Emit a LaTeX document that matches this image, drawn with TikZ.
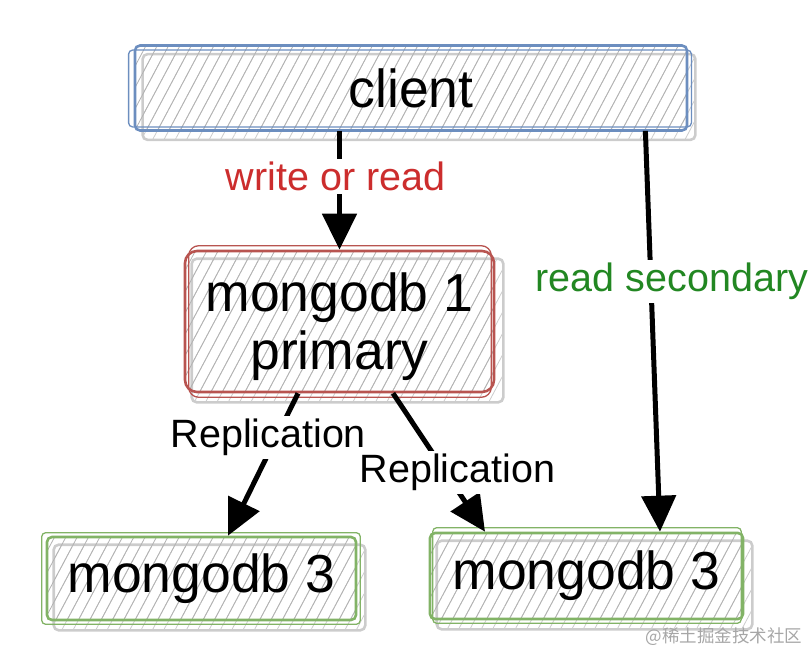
\documentclass[tikz,border=0pt]{standalone}
\usepackage{fontspec}
\setmainfont{Liberation Sans}
\newfontfamily\cjkfont{Noto Sans CJK SC}
\usetikzlibrary{patterns.meta,arrows.meta,backgrounds,calc}
\definecolor{cblue}{HTML}{6C8EBF}
\definecolor{cred}{HTML}{B85450}
\definecolor{cgreen}{HTML}{82B366}
\definecolor{tred}{RGB}{204,45,45}
\definecolor{tgreen}{RGB}{34,135,34}
\begin{document}
\begin{tikzpicture}[x=1pt,y=-1pt,
  bigtext/.style={font=\fontsize{53.5}{58}\selectfont, align=center},
  box/.style={line width=2.6pt, rounded corners=5pt,
    pattern={Lines[angle=62,distance=10pt,line width=0.8pt]}, pattern color=black!30,
    bigtext, inner sep=0pt},
  shadowbox/.style={line width=2.6pt, draw=black!20, rounded corners=5pt,
    pattern={Lines[angle=62,distance=10pt,line width=0.8pt]}, pattern color=black!20},
  sketch/.style={line width=1.3pt, rounded corners=4pt},
  arr/.style={line width=5pt, -{Triangle[length=36pt,width=34pt]}},
  lbl/.style={fill=white, inner sep=3pt, font=\fontsize{39.5}{44}\selectfont},
]
\useasboundingbox (0,0) rectangle (809,661);

% boxes
\node[box, draw=cblue, minimum width=552pt, minimum height=85pt] (client) at (411,88) {client};
\node[box, draw=cred, rounded corners=12pt, minimum width=309pt, minimum height=141pt,
  label={[bigtext, yshift=-5pt]center:mongodb 1\\primary}] (m1) at (339.5,321.5) {};
\node[box, draw=cgreen, minimum width=309pt, minimum height=83pt] (m3a) at (201.5,578.5) {mongodb 3};
\node[box, draw=cgreen, minimum width=313pt, minimum height=86pt] (m3b) at (586.5,576) {mongodb 3};

% shadows
\begin{scope}[on background layer]
  \foreach \n in {client,m1,m3a,m3b}{
    \draw[shadowbox] ($(\n.north west)+(8,9)$) rectangle ($(\n.south east)+(8,9)$);
  }
\end{scope}

% sketchy extra strokes
\draw[sketch, cblue] ($(client.north west)+(-6,5)$) rectangle ($(client.south east)+(4,-4)$);
\draw[sketch, cred, rounded corners=10pt] ($(m1.north west)+(5,-4)$) rectangle ($(m1.south east)+(-4,4)$);
\draw[sketch, cgreen] ($(m3a.north west)+(-4,-3)$) rectangle ($(m3a.south east)+(3,3)$);
\draw[sketch, cgreen] ($(m3b.north west)+(4,-4)$) rectangle ($(m3b.south east)+(-3,3)$);

% connectors
\draw[arr] (client.south -| m1.north) -- (m1.north)
  node[lbl, pos=0.38, xshift=-4pt, text=tred] (l1) {write or read};
\draw[arr] ([xshift=-42pt]client.south east) -- ([xshift=73.5pt]m3b.north)
  node[lbl, pos=0.375, xshift=21pt, text=tgreen] (l2) {read secondary};
\draw[arr] ([xshift=-41.5pt]m1.south) -- ([xshift=26.5pt]m3a.north)
  node[lbl, pos=0.31, xshift=-8pt] (l3) {Replication};
\draw[arr] ([xshift=53.5pt]m1.south) -- ([xshift=-101.5pt]m3b.north)
  node[lbl, pos=0.57, xshift=12pt] (l4) {Replication};

% watermark
\node[text=black!35, font=\cjkfont\fontsize{17.5}{20}\selectfont, anchor=east] (wm) at (806,637) {@稀土掘金技术社区};
\end{tikzpicture}
\end{document}
